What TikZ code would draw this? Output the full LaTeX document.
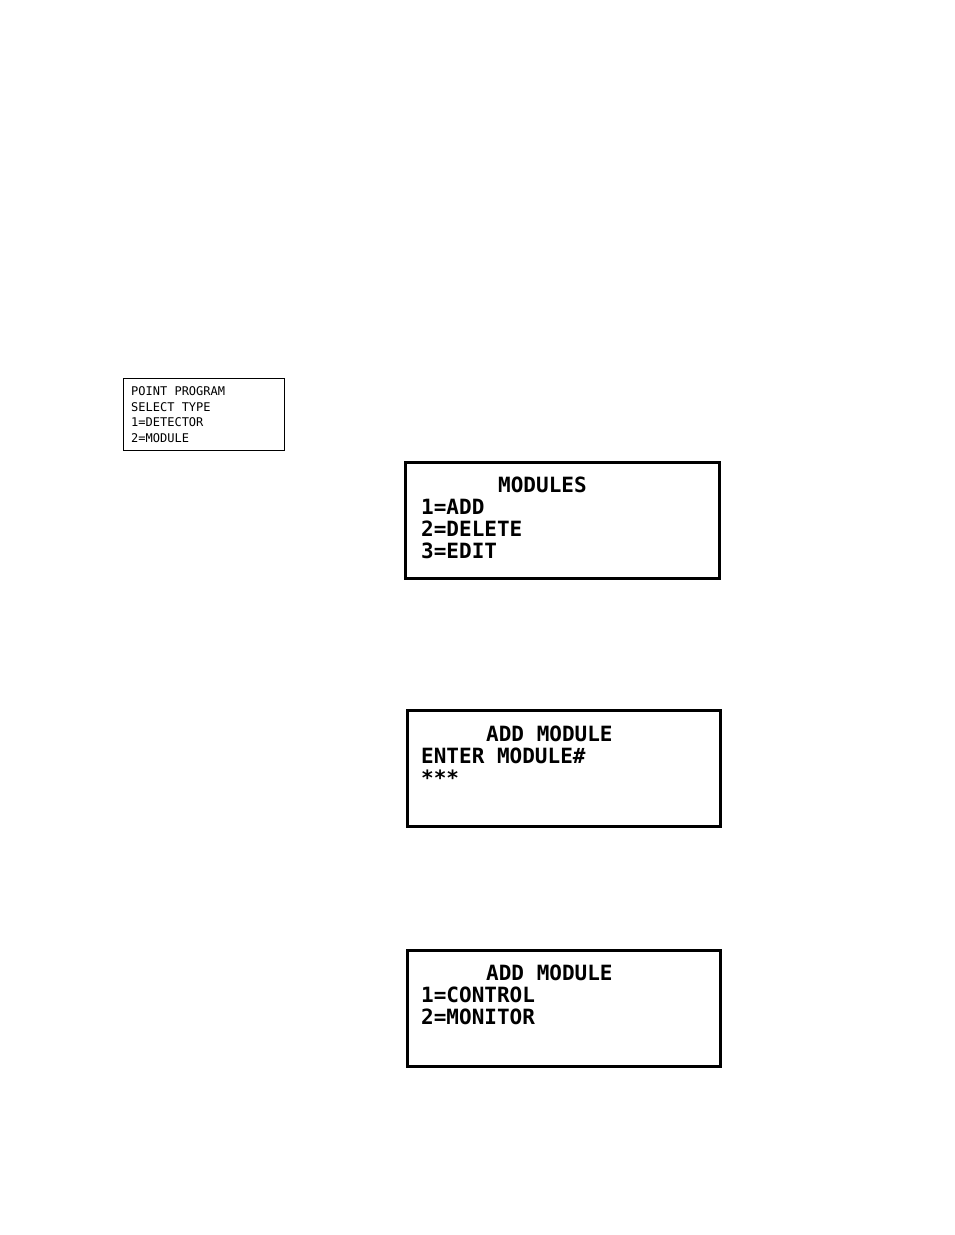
\documentclass[tikz,border=0pt]{standalone}
\usepackage{fontspec}
\setmonofont{DejaVu Sans Mono}
\usetikzlibrary{positioning}
\tikzset{
  lcd/.style={anchor=base west, inner sep=0pt, font=\ttfamily\bfseries\fontsize{21}{22}\selectfont},
  lcdsmall/.style={anchor=base west, inner sep=0pt, font=\ttfamily\fontsize{12}{13}\selectfont},
  screen/.style={draw=black, line width=3pt}
}
\begin{document}
\begin{tikzpicture}[x=1pt,y=-1pt]
  \useasboundingbox (0,0) rectangle (954,1235);
  % point program screen
  \draw[line width=1pt] (123,378) rectangle (284,450);
  \node[lcdsmall] (pp1) at (131,395) {POINT PROGRAM};
  \node[lcdsmall] (pp2) at (131,411) {SELECT TYPE};
  \node[lcdsmall] (pp3) at (131,426) {1=DETECTOR};
  \node[lcdsmall] (pp4) at (131,442) {2=MODULE};
  % modules screen
  \draw[screen] (405,462) rectangle (719,578);
  \node[lcd] (md1) at (498,492) {MODULES};
  \node[lcd] (md2) at (421,514) {1=ADD};
  \node[lcd] (md3) at (421,536) {2=DELETE};
  \node[lcd] (md4) at (421,558) {3=EDIT};
  % add module screen
  \draw[screen] (407,710) rectangle (720,826);
  \node[lcd] (am1) at (486,741) {ADD MODULE};
  \node[lcd] (am2) at (421,763) {ENTER MODULE\#};
  \node[lcd] (am3) at (421,785) {***};
  % add module type screen
  \draw[screen] (407,950) rectangle (720,1066);
  \node[lcd] (at1) at (486,980) {ADD MODULE};
  \node[lcd] (at2) at (421,1002) {1=CONTROL};
  \node[lcd] (at3) at (421,1024) {2=MONITOR};
\end{tikzpicture}
\end{document}
